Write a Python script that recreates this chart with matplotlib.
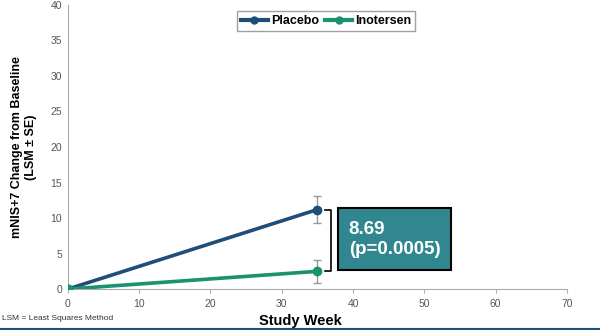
import matplotlib.pyplot as plt
from matplotlib.patches import Rectangle
from matplotlib.lines import Line2D

plt.rcParams['font.family'] = ['Liberation Sans', 'DejaVu Sans']

weeks = [0, 35]
placebo = [0, 11.2]
placebo_se = [0, 1.9]
inotersen = [0, 2.5]
inotersen_se = [0, 1.6]
diff_label = "8.69\n(p=0.0005)"

c_plac = '#1f4e79'
c_ino = '#1a9270'

fig = plt.figure(figsize=(6, 3.3), dpi=100)
ax = fig.add_axes([0.113, 0.124, 0.832, 0.861])

ax.errorbar(weeks, placebo, yerr=placebo_se, color=c_plac, lw=2.6, marker='o', ms=6,
            ecolor='#999999', elinewidth=1, capsize=3, label='Placebo', zorder=3)
ax.errorbar(weeks, inotersen, yerr=inotersen_se, color=c_ino, lw=2.6, marker='o', ms=6,
            ecolor='#999999', elinewidth=1, capsize=3, label='Inotersen', zorder=3)

ax.set_xlim(0, 70)
ax.set_ylim(0, 40)
ax.set_xticks(range(0, 71, 10))
ax.set_yticks(range(0, 41, 5))
for s in ['top', 'right']:
    ax.spines[s].set_visible(False)
for s in ['left', 'bottom']:
    ax.spines[s].set_color('#aaaaaa')
ax.tick_params(axis='both', labelsize=7.5, colors='#555555', length=0, pad=4)
ax.tick_params(axis='x', length=3, color='#aaaaaa')

ax.set_ylabel('mNIS+7 Change from Baseline\n(LSM \u00b1 SE)', fontsize=9, fontweight='bold', labelpad=10)
fig.text(0.5, 0.015, 'Study Week', ha='center', fontsize=10.5, fontweight='bold')
fig.text(0.003, 0.03, 'LSM = Least Squares Method', fontsize=6, color='#333333')

# bracket between the two endpoints
bx = 36.9
ax.plot([bx - 0.8, bx, bx, bx - 0.8], [placebo[1], placebo[1], inotersen[1], inotersen[1]],
        color='black', lw=1.2, clip_on=False)

ax.add_patch(Rectangle((37.9, 2.7), 15.8, 8.7, facecolor='#31878f', edgecolor='black', lw=1.5, zorder=4))
ax.text(39.4, 7.0, diff_label, color='white', fontsize=13.5, fontweight='bold', va='center', zorder=5,
        linespacing=1.25)

handles = [Line2D([], [], color=c_plac, lw=3, marker='o', ms=5),
           Line2D([], [], color=c_ino, lw=3, marker='o', ms=5)]
leg = ax.legend(handles, ['Placebo', 'Inotersen'], loc='upper center', bbox_to_anchor=(0.517, 1.0),
                ncol=2, fontsize=9, frameon=True, fancybox=False, edgecolor='#888888',
                handlelength=2.2, columnspacing=0.5, handletextpad=0.2, borderpad=0.3)
for t in leg.get_texts():
    t.set_fontweight('bold')

fig.add_artist(Line2D([0, 1], [0.004, 0.004], color='#1f4e79', lw=1.5))

fig.savefig('out.png')
